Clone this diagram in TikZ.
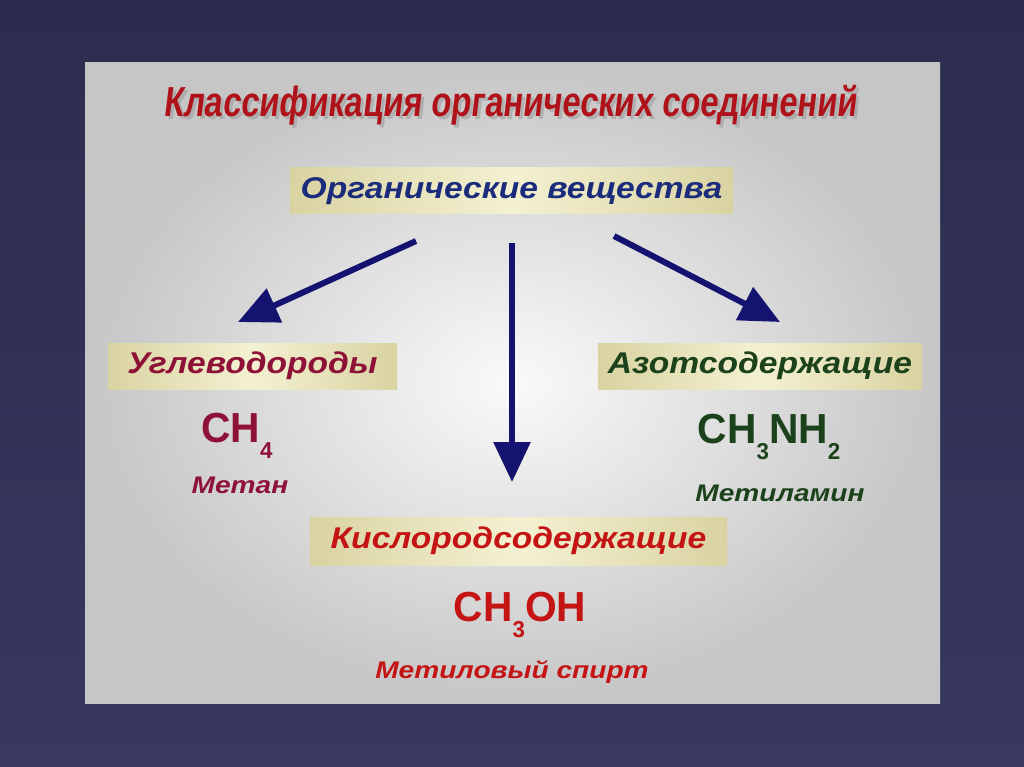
\documentclass[tikz,border=0pt]{standalone}
\usepackage{fontspec}
\setmainfont{Liberation Sans}
\newfontfamily\titlefont[FakeStretch=0.78,FakeSlant=0.12]{Liberation Sans}
\newfontfamily\boxfont[FakeStretch=1.12]{Liberation Sans}
\newfontfamily\namefont[FakeStretch=1.17]{Liberation Sans}
\newfontfamily\formfont[FakeStretch=0.97]{Liberation Sans}
\usetikzlibrary{arrows.meta,shadings}
\definecolor{bgnavy}{HTML}{2C2C4E}
\definecolor{bgnavyl}{HTML}{383860}
\definecolor{arrowblue}{HTML}{141470}
\definecolor{titlered}{HTML}{B0121A}
\definecolor{orgblue}{HTML}{1C2C7C}
\definecolor{hcmaroon}{HTML}{8E1238}
\definecolor{ngreen}{HTML}{1C421C}
\definecolor{ored}{HTML}{C41414}
\definecolor{boxedge}{HTML}{D9D3A2}
\definecolor{boxmid}{HTML}{F4F1D2}
\tikzset{
  labelbox/.style={shading=axis,left color=boxedge,right color=boxedge,middle color=boxmid,
    shading angle=90, inner sep=0pt, anchor=center},
  boxtext/.style={font=\boxfont\bfseries\itshape\fontsize{30}{34}\selectfont, anchor=center},
  formula/.style={font=\formfont\bfseries\fontsize{42}{48}\selectfont, anchor=base},
  namelabel/.style={font=\namefont\bfseries\itshape\fontsize{24}{28}\selectfont, anchor=center},
  bigarrow/.style={draw=arrowblue, line width=6pt, -{Triangle[length=40pt,width=36pt]}},
  titletext/.style={font=\titlefont\bfseries\fontsize{42}{48}\selectfont, anchor=center},
}
\newcommand{\sub}[1]{\raisebox{-16pt}{\fontsize{23}{25}\selectfont #1}}
\begin{document}
\begin{tikzpicture}[x=1pt,y=-1pt]
\useasboundingbox (0,0) rectangle (1024,767);
% background
\shade[bottom color=bgnavyl, top color=bgnavy] (0,0) rectangle (1024,767);
% panel
\shade[inner color=white!96!gray, outer color=gray!45] (85,63) rectangle (940,703);
% title with shadow
\node[titletext, text=black!40, opacity=0.55] at (513,108) {Классификация органических соединений};
\node (title) [titletext, text=titlered] at (510,105) {Классификация органических соединений};
% boxes
\path[labelbox] (290,168) rectangle (733,214);
\node (org) [boxtext, text=orgblue, minimum width=443pt, minimum height=46pt] at (511.5,191) {Органические вещества};
\path[labelbox] (108,343) rectangle (397,389);
\node (hc) [boxtext, text=hcmaroon, minimum width=289pt, minimum height=46pt] at (252.5,366) {Углеводороды};
\path[labelbox] (598,343) rectangle (922,389);
\node (nc) [boxtext, text=ngreen, minimum width=324pt, minimum height=46pt] at (760,366) {Азотсодержащие};
\path[labelbox] (310,517) rectangle (727,565);
\node (oc) [boxtext, text=ored, minimum width=417pt, minimum height=48pt] at (518.5,541) {Кислородсодержащие};
% formulas (anchored at baseline)
\node (ch4) [formula, text=hcmaroon] at (237,442) {CH\sub{4}};
\node (metan) [namelabel, text=hcmaroon] at (240,485) {Метан};
\node (ch3nh2) [formula, text=ngreen] at (769,443) {CH\sub{3}NH\sub{2}};
\node (metilamin) [namelabel, text=ngreen] at (780,493) {Метиламин};
\node (ch3oh) [formula, text=ored] at (520,621) {CH\sub{3}OH};
\node (spirt) [namelabel, text=ored] at (512,672) {Метиловый спирт};
% arrows
\coordinate (aLs) at (416,241);
\coordinate (aLe) at (238,322);
\coordinate (aMs) at (512,243);
\coordinate (aMe) at (512,482);
\coordinate (aRs) at (614,236);
\coordinate (aRe) at (780,322);
\draw[bigarrow] (aLs) -- (aLe);
\draw[bigarrow] (aMs) -- (aMe);
\draw[bigarrow] (aRs) -- (aRe);
\end{tikzpicture}
\end{document}
